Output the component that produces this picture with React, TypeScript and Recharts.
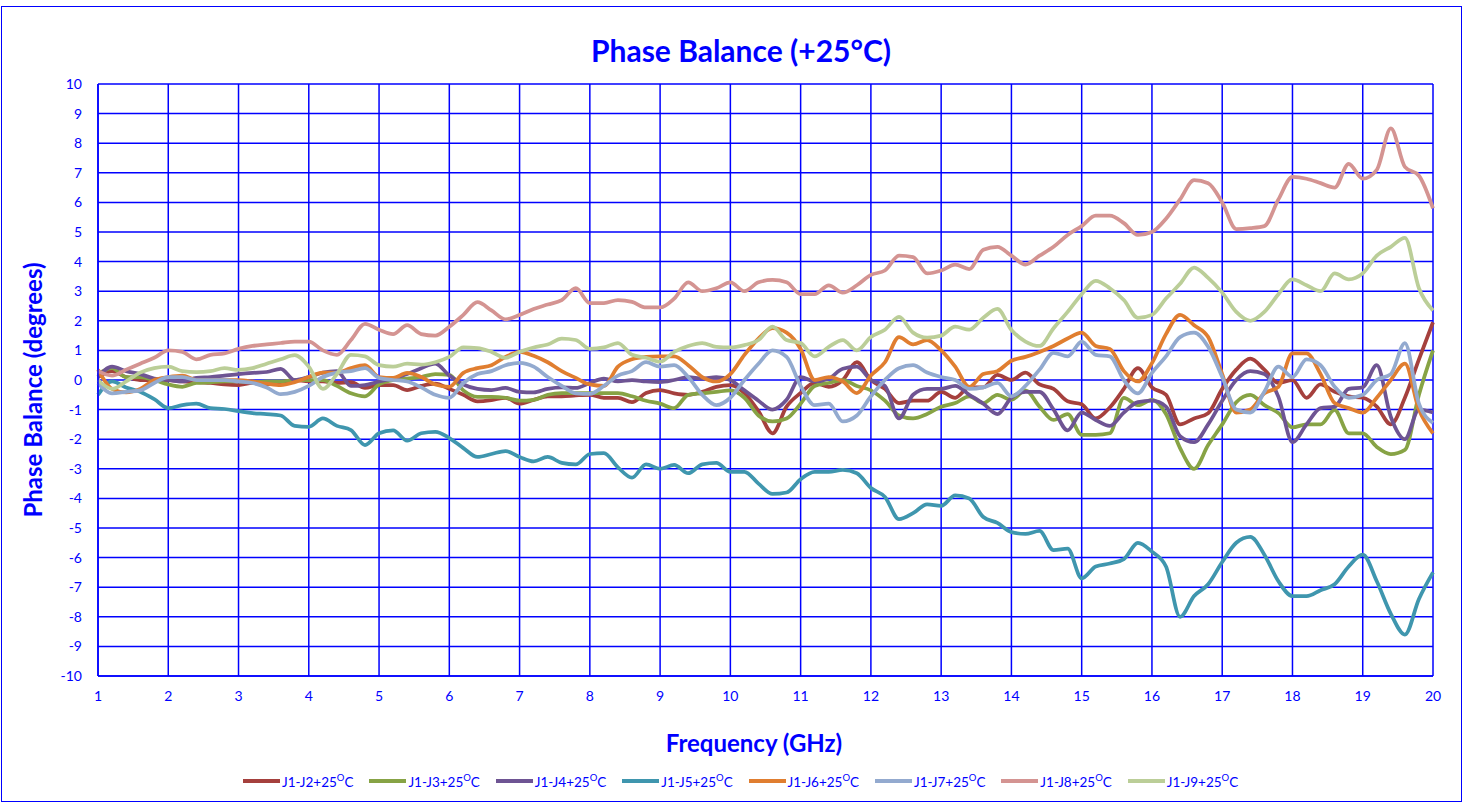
import React from "react";
import { CartesianGrid, Line, LineChart, XAxis, YAxis } from "recharts";

// Frequency grid, 1 to 20 GHz every 0.2 GHz
const freqGHz = Array.from({ length: 96 }, (_, i) => +(1 + i * 0.2).toFixed(1));

const xTicks = [1, 2, 3, 4, 5, 6, 7, 8, 9, 10, 11, 12, 13, 14, 15, 16, 17, 18, 19, 20];
const yTicks = [-10, -9, -8, -7, -6, -5, -4, -3, -2, -1, 0, 1, 2, 3, 4, 5, 6, 7, 8, 9, 10];

// Phase balance in degrees, one value per frequency step
const j2 = [
  0.1, 0.3, 0.1, 0.0, 0.0, 0.0, -0.05, -0.07, -0.1, -0.15,
  -0.17, -0.1, -0.15, -0.07, 0.0, -0.05, -0.05, -0.1, -0.07, -0.27,
  -0.17, -0.17, -0.34, -0.2, -0.12, -0.3, -0.5, -0.72, -0.68, -0.6,
  -0.8, -0.67, -0.55, -0.55, -0.52, -0.5, -0.6, -0.6, -0.75, -0.44,
  -0.34, -0.45, -0.5, -0.4, -0.23, -0.17, -0.44, -1.05, -1.8, -0.9,
  -0.44, -0.1, -0.23, 0.0, 0.6, 0.0, -0.3, -0.78, -0.7, -0.7,
  -0.4, -0.6, -0.25, -0.25, 0.17, 0.0, 0.25, -0.15, -0.3, -0.72,
  -0.82, -1.3, -0.93, -0.3, 0.4, -0.25, -0.5, -1.5, -1.3, -1.12,
  -0.3, 0.35, 0.72, 0.35, -0.1, 0.0, -0.6, -0.15, -0.4, -0.55,
  -0.6, -0.9, -1.5, -0.6, 0.7, 1.95,
];

const j3 = [
  0.2, 0.4, 0.1, 0.1, 0.0, -0.15, -0.23, -0.1, -0.08, -0.05,
  -0.05, -0.08, -0.05, -0.05, 0.0, 0.0, 0.0, -0.2, -0.45, -0.55,
  -0.15, 0.0, 0.05, 0.1, 0.2, 0.17, -0.35, -0.57, -0.57, -0.6,
  -0.7, -0.67, -0.5, -0.44, -0.44, -0.44, -0.44, -0.44, -0.55, -0.7,
  -0.8, -0.95, -0.5, -0.45, -0.4, -0.35, -0.6, -1.2, -1.4, -1.3,
  -0.8, -0.2, -0.1, 0.0, -0.2, -0.35, -0.7, -1.2, -1.3, -1.15,
  -0.9, -0.78, -0.55, -0.78, -0.5, -0.67, -0.35, -0.9, -1.35, -1.15,
  -1.85, -1.85, -1.8, -0.6, -0.85, -0.67, -1.15, -2.3, -3.0, -2.2,
  -1.5, -0.75, -0.5, -0.85, -1.12, -1.6, -1.5, -1.5, -1.01, -1.8,
  -1.8, -2.26, -2.5, -2.36, -0.5, 1.0,
];

const j4 = [
  0.1, 0.45, 0.3, 0.2, 0.05, 0.0, -0.05, 0.07, 0.1, 0.15,
  0.2, 0.24, 0.27, 0.38, 0.0, 0.1, 0.25, 0.3, -0.2, -0.17,
  -0.05, 0.05, 0.2, 0.4, 0.55, 0.15, -0.15, -0.3, -0.34, -0.27,
  -0.4, -0.42, -0.3, -0.25, -0.27, -0.1, 0.05, -0.05, 0.0, -0.05,
  -0.07, 0.0, 0.1, 0.05, 0.1, 0.0, -0.35, -0.7, -1.0, -0.67,
  0.1, -0.05, 0.05, 0.38, 0.45, 0.0, -0.2, -1.3, -0.5, -0.3,
  -0.3, -0.2, -0.5, -0.8, -1.15, -0.6, -0.4, -0.4, -1.0, -1.7,
  -1.1, -1.35, -1.55, -1.1, -0.75, -0.7, -0.9, -1.9, -2.1, -1.5,
  -0.7, 0.0, 0.3, 0.2, -0.57, -2.1, -1.5, -0.95, -0.9, -0.3,
  -0.25, 0.5, -1.25, -2.0, -1.0, -1.1,
];

const j5 = [
  -0.5, -0.05, -0.25, -0.4, -0.65, -0.95, -0.85, -0.8, -0.95, -0.98,
  -1.05, -1.12, -1.15, -1.2, -1.55, -1.58, -1.3, -1.55, -1.69, -2.2,
  -1.8, -1.7, -2.05, -1.8, -1.75, -1.96, -2.3, -2.6, -2.5, -2.4,
  -2.6, -2.75, -2.6, -2.8, -2.85, -2.5, -2.47, -2.95, -3.3, -2.85,
  -3.0, -2.87, -3.15, -2.85, -2.8, -3.1, -3.1, -3.5, -3.85, -3.8,
  -3.35, -3.1, -3.1, -3.04, -3.15, -3.65, -3.95, -4.7, -4.5, -4.2,
  -4.25, -3.9, -4.0, -4.63, -4.83, -5.14, -5.2, -5.1, -5.75, -5.7,
  -6.7, -6.3, -6.2, -6.05, -5.5, -5.8, -6.3, -8.0, -7.3, -6.9,
  -6.15, -5.5, -5.3, -5.9, -6.8, -7.3, -7.3, -7.1, -6.9, -6.3,
  -5.9, -6.8, -7.9, -8.6, -7.4, -6.5,
];

const j6 = [
  0.35, -0.3, -0.42, -0.3, 0.0, 0.1, 0.15, 0.0, 0.0, 0.0,
  0.0, -0.05, -0.12, -0.17, -0.07, 0.1, 0.25, 0.24, 0.4, 0.5,
  0.1, 0.07, 0.24, 0.1, -0.15, -0.23, 0.24, 0.4, 0.5, 0.78,
  0.95, 0.82, 0.6, 0.3, 0.07, -0.15, -0.2, 0.45, 0.7, 0.78,
  0.8, 0.8, 0.5, 0.1, -0.05, 0.2, 0.85, 1.4, 1.75, 1.6,
  1.05, 0.0, 0.1, -0.05, -0.44, 0.15, 0.6, 1.45, 1.2, 1.35,
  1.0, 0.45, -0.23, 0.2, 0.3, 0.65, 0.78, 0.95, 1.15, 1.4,
  1.6, 1.15, 1.05, 0.3, -0.05, 0.57, 1.55, 2.2, 1.85, 1.45,
  0.2, -1.1, -1.0, -0.45, -0.23, 0.9, 0.9, 0.2, -0.78, -0.95,
  -1.1, -0.6, 0.0, 0.55, -1.0, -1.8,
];

const j7 = [
  -0.1, -0.45, -0.4, -0.35, -0.1, 0.1, 0.1, 0.0, 0.0, 0.0,
  -0.05, -0.1, -0.25, -0.48, -0.4, -0.2, 0.1, 0.25, 0.3, 0.4,
  0.07, 0.0, -0.05, -0.25, -0.5, -0.6, -0.1, 0.2, 0.3, 0.5,
  0.58, 0.45, 0.1, -0.2, -0.45, -0.47, -0.2, 0.15, 0.3, 0.6,
  0.45, 0.5, 0.1, -0.5, -0.85, -0.6, 0.0, 0.55, 1.0, 0.78,
  -0.2, -0.85, -0.8, -1.4, -1.2, -0.55, 0.0, 0.4, 0.5, 0.25,
  0.1, 0.0, -0.3, -0.25, -0.1, -0.55, -0.2, 0.35, 0.92, 0.8,
  1.3, 0.85, 0.8, 0.0, -0.45, 0.24, 0.8, 1.45, 1.6, 1.12,
  0.1, -1.0, -1.1, -0.4, 0.45, 0.1, 0.7, 0.5, -0.23, -0.6,
  -0.5, 0.0, 0.2, 1.25, -0.8, -1.45,
];

const j8 = [
  0.3, 0.15, 0.35, 0.55, 0.75, 1.0, 0.95, 0.7, 0.85, 0.9,
  1.05, 1.15, 1.2, 1.25, 1.3, 1.3, 1.0, 0.85, 1.35, 1.9,
  1.7, 1.55, 1.85, 1.55, 1.5, 1.8, 2.2, 2.63, 2.35, 2.05,
  2.2, 2.4, 2.55, 2.7, 3.1, 2.6, 2.6, 2.7, 2.64, 2.45,
  2.45, 2.75, 3.3, 3.0, 3.1, 3.3, 3.0, 3.3, 3.38, 3.3,
  2.9, 2.9, 3.2, 2.95, 3.2, 3.55, 3.7, 4.2, 4.15, 3.6,
  3.7, 3.9, 3.75, 4.4, 4.5, 4.2, 3.9, 4.2, 4.5, 4.9,
  5.2, 5.55, 5.55, 5.3, 4.9, 5.0, 5.45, 6.1, 6.75, 6.65,
  6.0, 5.1, 5.13, 5.2, 6.1, 6.86, 6.8, 6.65, 6.5, 7.3,
  6.8, 7.1, 8.5, 7.2, 6.9, 5.8,
];

const j9 = [
  0.0, -0.3, -0.05, 0.25, 0.4, 0.45, 0.3, 0.27, 0.3, 0.4,
  0.34, 0.4, 0.55, 0.7, 0.84, 0.45, -0.3, 0.2, 0.85, 0.8,
  0.5, 0.45, 0.55, 0.52, 0.6, 0.78, 1.1, 1.08, 0.95, 0.75,
  0.95, 1.1, 1.2, 1.4, 1.35, 1.05, 1.1, 1.25, 0.85, 0.75,
  0.62, 0.95, 1.15, 1.25, 1.12, 1.1, 1.18, 1.35, 1.8, 1.35,
  1.25, 0.8, 1.12, 1.35, 1.0, 1.45, 1.7, 2.13, 1.6, 1.43,
  1.5, 1.8, 1.7, 2.1, 2.4, 1.69, 1.3, 1.15, 1.75, 2.3,
  2.9, 3.35, 3.1, 2.7, 2.1, 2.2, 2.75, 3.25, 3.8, 3.45,
  2.95, 2.3, 2.0, 2.3, 2.9, 3.4, 3.2, 3.0, 3.6, 3.4,
  3.6, 4.2, 4.5, 4.8, 3.1, 2.35,
];

const series = [
  { key: "j2", name: "J1-J2+25", color: "#A5403D", values: j2 },
  { key: "j3", name: "J1-J3+25", color: "#87A345", values: j3 },
  { key: "j4", name: "J1-J4+25", color: "#6E5493", values: j4 },
  { key: "j5", name: "J1-J5+25", color: "#3F96AE", values: j5 },
  { key: "j6", name: "J1-J6+25", color: "#E07E30", values: j6 },
  { key: "j7", name: "J1-J7+25", color: "#93AACF", values: j7 },
  { key: "j8", name: "J1-J8+25", color: "#D49492", values: j8 },
  { key: "j9", name: "J1-J9+25", color: "#BBCE98", values: j9 },
];

const rows = freqGHz.map((f, i) => {
  const row: Record<string, number> = { f };
  series.forEach((s) => {
    row[s.key] = s.values[i];
  });
  return row;
});

const BLUE = "#0000FF";
const FONT = "Lato, 'Open Sans', sans-serif";

export default function App() {
  return (
    <div
      style={{
        position: "absolute",
        left: 0,
        top: 0,
        width: 1468,
        height: 804,
        background: "#fff",
        fontFamily: FONT,
        overflow: "hidden",
      }}
    >
      <div
        style={{
          position: "absolute",
          left: 1,
          top: 6,
          width: 1459,
          height: 794,
          border: `1.5px solid ${BLUE}`,
        }}
      />
      <div
        style={{
          position: "absolute",
          left: 491,
          width: 500,
          top: 31,
          textAlign: "center",
          color: BLUE,
          fontWeight: 700,
          fontSize: 30,
          lineHeight: "38px",
        }}
      >
        Phase Balance (+25°C)
      </div>

      <LineChart
        width={1468}
        height={804}
        data={rows}
        margin={{ top: 84, right: 35, bottom: 0, left: 0 }}
        style={{ position: "absolute", left: 0, top: 0 }}
      >
        <CartesianGrid stroke={BLUE} strokeWidth={1.5} />
        <XAxis
          dataKey="f"
          type="number"
          domain={[1, 20]}
          ticks={xTicks}
          height={128}
          tickLine={false}
          axisLine={{ stroke: BLUE, strokeWidth: 1.5 }}
          tick={{ fill: BLUE, fontSize: 14, fontFamily: FONT }}
          tickMargin={9}
          interval={0}
        />
        <YAxis
          type="number"
          domain={[-10, 10]}
          ticks={yTicks}
          width={98}
          tickLine={false}
          axisLine={{ stroke: BLUE, strokeWidth: 1.5 }}
          tick={{ fill: BLUE, fontSize: 14, fontFamily: FONT }}
          tickMargin={10}
          interval={0}
        />
        {series.map((s) => (
          <Line
            key={s.key}
            dataKey={s.key}
            name={s.name}
            type="monotone"
            stroke={s.color}
            strokeWidth={3.75}
            dot={false}
            isAnimationActive={false}
          />
        ))}
      </LineChart>

      <div
        style={{
          position: "absolute",
          left: 33,
          top: 390,
          width: 0,
          height: 0,
        }}
      >
        <div
          style={{
            position: "absolute",
            left: 0,
            top: 0,
            transform: "translate(-50%, -50%) rotate(-90deg)",
            whiteSpace: "nowrap",
            color: BLUE,
            fontWeight: 700,
            fontSize: 24,
            lineHeight: "28px",
          }}
        >
          Phase Balance (degrees)
        </div>
      </div>

      <div
        style={{
          position: "absolute",
          left: 604,
          width: 300,
          top: 728,
          textAlign: "center",
          color: BLUE,
          fontWeight: 700,
          fontSize: 24,
          lineHeight: "30px",
        }}
      >
        Frequency (GHz)
      </div>

      <div
        style={{
          position: "absolute",
          left: 243,
          top: 772,
          height: 18,
          display: "flex",
          alignItems: "center",
        }}
      >
        {series.map((s) => (
          <div
            key={s.key}
            style={{ width: 126.4, display: "flex", alignItems: "center" }}
          >
            <span
              style={{
                display: "inline-block",
                width: 37,
                height: 4,
                background: s.color,
                marginRight: 2,
              }}
            />
            <span style={{ color: BLUE, fontSize: 13.5, whiteSpace: "nowrap" }}>
              {s.name}
              <sup style={{ fontSize: 9.5 }}>O</sup>C
            </span>
          </div>
        ))}
      </div>
    </div>
  );
}
